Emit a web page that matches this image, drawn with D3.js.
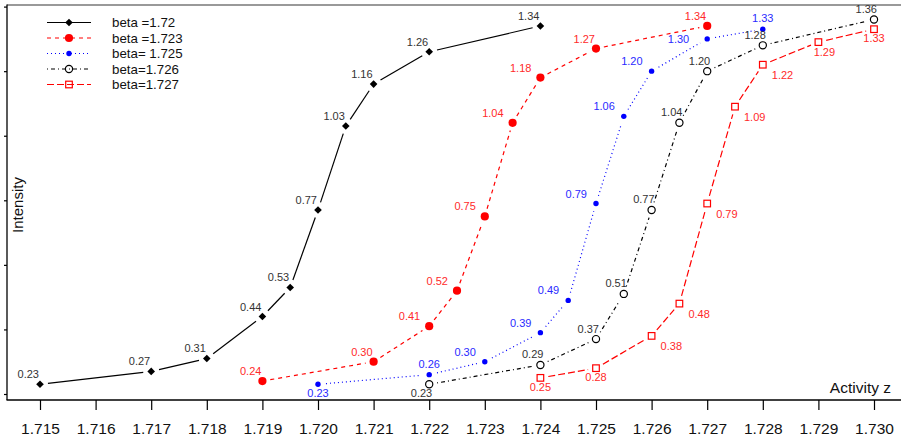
<!DOCTYPE html>
<html>
<head>
<meta charset="utf-8">
<script src="https://cdn.jsdelivr.net/npm/d3@7"></script>
<style>
  body { margin: 0; background: #fff; }
  svg { display: block; font-family: "Liberation Sans", Arial, sans-serif; }
</style>
</head>
<body>
<div id="chart"></div>
<script>
// tick values
const xTicks = [1.715, 1.716, 1.717, 1.718, 1.719, 1.720, 1.721, 1.722, 1.723, 1.724, 1.725, 1.726, 1.727, 1.728, 1.729, 1.730];
const yTicks = [0.2, 0.4, 0.6, 0.8, 1.0, 1.2, 1.4];
const legendLabels = ['beta =1.72', 'beta =1.723', 'beta= 1.725', 'beta=1.726', 'beta=1.727'];

// beta = 1.72
const z1720 = [1.715, 1.717, 1.718, 1.719, 1.7195, 1.720, 1.7205, 1.721, 1.722, 1.724];
const v1720 = [0.23, 0.27, 0.31, 0.44, 0.53, 0.77, 1.03, 1.16, 1.26, 1.34];
const lab1720 = ['nw', 'nw', 'nw', 'nw', 'nw', 'nw', 'nw', 'nw', 'nw', 'nw'];

// beta = 1.723
const z1723 = [1.719, 1.721, 1.722, 1.7225, 1.723, 1.7235, 1.724, 1.725, 1.727];
const v1723 = [0.24, 0.30, 0.41, 0.52, 0.75, 1.04, 1.18, 1.27, 1.34];
const lab1723 = ['nw', 'nw', 'w', 'w', 'w', 'w', 'w', 'nw', 'nw'];

// beta = 1.725
const z1725 = [1.720, 1.722, 1.723, 1.724, 1.7245, 1.725, 1.7255, 1.726, 1.727, 1.728];
const v1725 = [0.23, 0.26, 0.30, 0.39, 0.49, 0.79, 1.06, 1.20, 1.30, 1.33];
const lab1725 = ['s', 'n', 'w', 'w', 'w', 'w', 'w', 'w', 'wb', 'n'];

// beta = 1.726
const z1726 = [1.722, 1.724, 1.725, 1.7255, 1.726, 1.7265, 1.727, 1.728, 1.730];
const v1726 = [0.23, 0.29, 0.37, 0.51, 0.77, 1.04, 1.20, 1.28, 1.36];
const lab1726 = ['sw', 'ne', 'ne', 'ne', 'ne', 'ne', 'ne', 'ne', 'ne'];

// beta = 1.727
const z1727 = [1.724, 1.725, 1.726, 1.7265, 1.727, 1.7275, 1.728, 1.729, 1.730];
const v1727 = [0.25, 0.28, 0.38, 0.48, 0.79, 1.09, 1.22, 1.29, 1.33];
const lab1727 = ['s', 's', 'se', 'se', 'se', 'se', 'se', 'sse', 's'];

const width = 901;
const height = 440;

// label placement: [anchor, dx, dy]
const placement = {
  nw: ['end', -1, -6],
  w: ['end', -9, -6],
  n: ['middle', 0, -7],
  s: ['middle', 0, 13],
  ne: ['end', 3, -6.5],
  sw: ['end', 3, 13],
  se: ['start', 9, 14],
  sse: ['middle', 6, 14],
  wb: ['end', -18, 4]
};

const series = [
  { z: z1720, v: v1720, lab: lab1720, color: '#000', text: '#333', dash: null, marker: 'diamond' },
  { z: z1723, v: v1723, lab: lab1723, color: '#ff0000', text: '#ff2a2a', dash: '4,4', marker: 'dot' },
  { z: z1725, v: v1725, lab: lab1725, color: '#0000ff', text: '#2a2aff', dash: '1,3', marker: 'smalldot' },
  { z: z1726, v: v1726, lab: lab1726, color: '#000', text: '#333', dash: '1,3,4,3', marker: 'circle' },
  { z: z1727, v: v1727, lab: lab1727, color: '#ff0000', text: '#ff2a2a', dash: '7,3', marker: 'square' }
];

const svg = d3.select('#chart')
  .append('svg')
  .attr('width', width)
  .attr('height', height);

const x = d3.scaleLinear().domain([1.715, 1.730]).range([40, 874]);
const y = d3.scaleLinear().domain([0.2, 1.4]).range([394, 6.6]);

// frame
svg.append('line')
  .attr('x1', 7).attr('x2', width).attr('y1', 5).attr('y2', 5)
  .attr('stroke', '#777').attr('stroke-width', 1.6);
svg.append('line')
  .attr('x1', 7).attr('x2', 7).attr('y1', 4.5).attr('y2', 400)
  .attr('stroke', '#000').attr('stroke-width', 1.3);
svg.append('line')
  .attr('x1', 6.5).attr('x2', width).attr('y1', 400).attr('y2', 400)
  .attr('stroke', '#000').attr('stroke-width', 1.4);

// x axis
const xAxis = svg.append('g')
  .attr('transform', 'translate(0,400)')
  .call(d3.axisBottom(x).tickValues(xTicks).tickFormat(d3.format('.3f')).tickSize(10).tickPadding(13));
xAxis.select('.domain').remove();
xAxis.selectAll('line').attr('stroke', '#000').attr('stroke-width', 1.2);
xAxis.selectAll('text')
  .attr('font-family', '"Liberation Sans", Arial, sans-serif')
  .attr('font-size', '15.5px')
  .attr('fill', '#111');

// y axis (ticks only)
const yAxis = svg.append('g')
  .attr('transform', 'translate(7,0)')
  .call(d3.axisLeft(y).tickValues(yTicks).tickFormat('').tickSize(3));
yAxis.select('.domain').remove();
yAxis.selectAll('line').attr('stroke', '#000').attr('stroke-width', 1.2);

// axis titles
svg.append('text')
  .attr('transform', 'translate(23,205) rotate(-90)')
  .attr('text-anchor', 'middle')
  .attr('font-size', '15px')
  .attr('fill', '#111')
  .text('Intensity');

svg.append('text')
  .attr('x', 891)
  .attr('y', 393)
  .attr('text-anchor', 'end')
  .attr('font-size', '15.5px')
  .attr('fill', '#111')
  .text('Activity z');

function drawMarker(g, type, cx, cy, color) {
  if (type === 'diamond') {
    g.append('path')
      .attr('d', `M${cx},${cy - 3.8}L${cx + 3.8},${cy}L${cx},${cy + 3.8}L${cx - 3.8},${cy}Z`)
      .attr('fill', color);
  } else if (type === 'dot') {
    g.append('circle').attr('cx', cx).attr('cy', cy).attr('r', 4.1).attr('fill', color);
  } else if (type === 'smalldot') {
    g.append('circle').attr('cx', cx).attr('cy', cy).attr('r', 2.7).attr('fill', color);
  } else if (type === 'circle') {
    g.append('circle').attr('cx', cx).attr('cy', cy).attr('r', 3.6)
      .attr('fill', 'none').attr('stroke', color).attr('stroke-width', 1.2);
  } else if (type === 'square') {
    g.append('rect').attr('x', cx - 3.3).attr('y', cy - 3.3).attr('width', 6.6).attr('height', 6.6)
      .attr('fill', 'none').attr('stroke', color).attr('stroke-width', 1.2);
  }
}

// series: segments with gaps around the points (type "b")
const gap = 8;
series.forEach(s => {
  const g = svg.append('g');
  const pts = s.z.map((z, i) => [x(z), y(s.v[i])]);

  for (let i = 0; i < pts.length - 1; i++) {
    const [x0, y0] = pts[i];
    const [x1, y1] = pts[i + 1];
    const len = Math.hypot(x1 - x0, y1 - y0);
    if (len <= 2 * gap) continue;
    const ux = (x1 - x0) / len;
    const uy = (y1 - y0) / len;
    g.append('line')
      .attr('x1', x0 + ux * gap).attr('y1', y0 + uy * gap)
      .attr('x2', x1 - ux * gap).attr('y2', y1 - uy * gap)
      .attr('stroke', s.color)
      .attr('stroke-width', 1.2)
      .attr('stroke-dasharray', s.dash);
  }

  pts.forEach(([px, py]) => drawMarker(g, s.marker, px, py, s.color));

  g.selectAll('text.val')
    .data(s.v)
    .join('text')
    .attr('class', 'val')
    .attr('x', (d, i) => pts[i][0] + placement[s.lab[i]][1])
    .attr('y', (d, i) => pts[i][1] + placement[s.lab[i]][2])
    .attr('text-anchor', (d, i) => placement[s.lab[i]][0])
    .attr('font-size', '11px')
    .attr('fill', s.text)
    .text(d => d.toFixed(2));
});

// legend
const legend = svg.append('g');
legendLabels.forEach((label, i) => {
  const s = series[i];
  const ly = 22.5 + i * 15.5;
  legend.append('line')
    .attr('x1', 47).attr('x2', 91).attr('y1', ly).attr('y2', ly)
    .attr('stroke', s.color)
    .attr('stroke-width', 1.2)
    .attr('stroke-dasharray', s.dash);
  drawMarker(legend, s.marker, 69, ly, s.color);
  legend.append('text')
    .attr('x', 112)
    .attr('y', ly + 4.8)
    .attr('font-size', '13.3px')
    .attr('fill', '#111')
    .text(label);
});
</script>
</body>
</html>
